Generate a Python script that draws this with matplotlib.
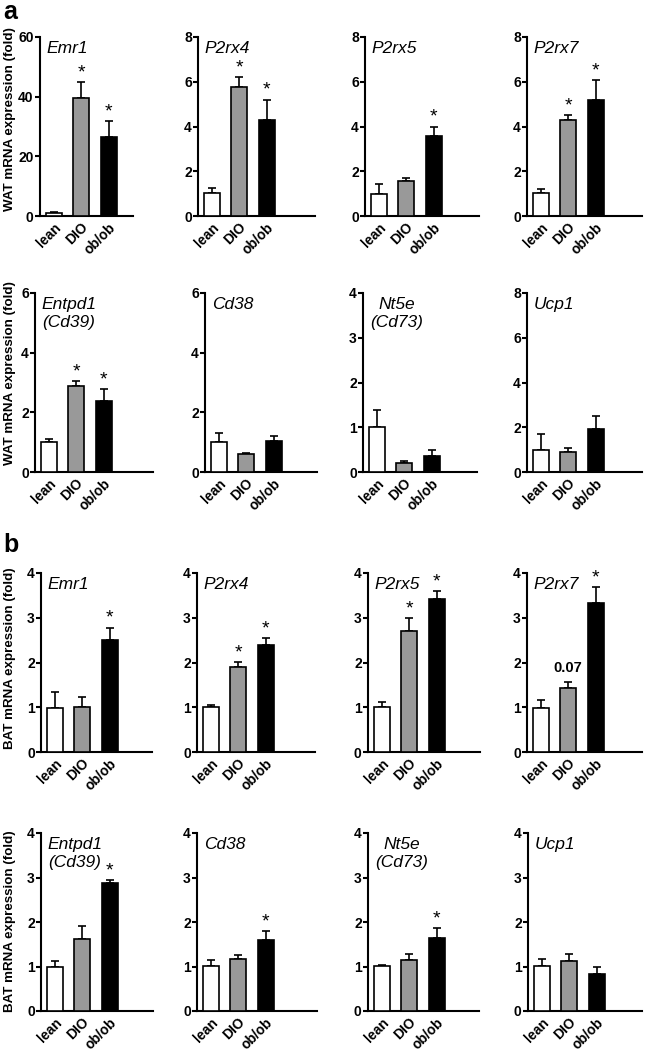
import matplotlib
matplotlib.use('Agg')
import matplotlib.pyplot as plt
import numpy as np

plt.rcParams['font.family'] = ['Liberation Sans', 'DejaVu Sans']

groups = ['lean', 'DIO', 'ob/ob']
bar_colors = ['white', '#999999', 'black']

genes = ['Emr1', 'P2rx4', 'P2rx5', 'P2rx7',
         'Entpd1\n(Cd39)', 'Cd38', 'Nt5e\n(Cd73)', 'Ucp1']

# a: WAT
wat_mean = [[1.0, 39.5, 26.6], [1.02, 5.75, 4.3], [1.0, 1.56, 3.58], [1.04, 4.28, 5.17],
            [0.99, 2.89, 2.39], [1.02, 0.61, 1.03], [1.0, 0.2, 0.35], [0.97, 0.88, 1.94]]
wat_sem = [[0.3, 5.3, 5.3], [0.23, 0.44, 0.9], [0.45, 0.15, 0.42], [0.16, 0.24, 0.9],
           [0.13, 0.15, 0.39], [0.29, 0.03, 0.17], [0.38, 0.05, 0.14], [0.71, 0.19, 0.58]]
wat_marks = [['', '*', '*'], ['', '*', '*'], ['', '', '*'], ['', '*', '*'],
             ['', '*', '*'], ['', '', ''], ['', '', ''], ['', '', '']]
wat_ymax = [60, 8, 8, 8, 6, 6, 4, 8]
wat_ystep = [20, 2, 2, 2, 2, 2, 1, 2]

# b: BAT
bat_mean = [[0.99, 1.01, 2.5], [1.0, 1.89, 2.4], [1.01, 2.7, 3.41], [0.99, 1.42, 3.34],
            [0.99, 1.62, 2.88], [1.01, 1.17, 1.6], [1.01, 1.14, 1.63], [1.01, 1.13, 0.83]]
bat_sem = [[0.36, 0.21, 0.28], [0.06, 0.12, 0.15], [0.11, 0.29, 0.19], [0.17, 0.14, 0.35],
           [0.13, 0.29, 0.07], [0.13, 0.08, 0.19], [0.02, 0.15, 0.24], [0.15, 0.15, 0.16]]
bat_marks = [['', '', '*'], ['', '*', '*'], ['', '*', '*'], ['', '0.07', '*'],
             ['', '', '*'], ['', '', '*'], ['', '', '*'], ['', '', '']]
bat_ymax = [4] * 8
bat_ystep = [1] * 8

W, H = 645, 1050
# axes boxes in pixels: (left, right) per column, (top, bottom) per row
row_tb = [(37, 216), (293, 472), (573, 752), (833, 1011)]
col_lr = [[(40, 133), (198, 315), (365, 479), (527, 642)],
          [(35, 153), (205, 317), (363, 477), (527, 642)],
          [(41, 152), (197, 315), (368, 480), (527, 642)],
          [(41, 153), (197, 317), (368, 479), (528, 642)]]
PX_PER_BAR = 27.5


def draw_panel(ax, mean, sem, marks, ymax, ystep, gene, width_px):
    x = np.arange(3)
    ax.errorbar(x, mean, yerr=[np.zeros(3), sem], fmt='none', ecolor='black',
                elinewidth=1.2, capsize=2.6, capthick=1.2, zorder=2)
    ax.bar(x, mean, width=0.57, color=bar_colors, edgecolor='black', linewidth=1.2, zorder=3)
    for xi, m, s, mk in zip(x, mean, sem, marks):
        if mk == '*':
            ax.annotate('*', (xi, m + s), xytext=(0, 0.5), textcoords='offset points',
                        ha='center', va='bottom', fontsize=14)
        elif mk:
            ax.annotate(mk, (xi, m + s), xytext=(0, 5), textcoords='offset points',
                        ha='center', va='bottom', fontsize=10.5, fontweight='bold')
    ax.set_ylim(0, ymax)
    ax.set_yticks(np.arange(0, ymax + ystep / 2, ystep))
    ax.set_xlim(-0.5, -0.5 + width_px / PX_PER_BAR)
    ax.set_xticks(x)
    ax.set_xticklabels(groups, rotation=45, ha='right', rotation_mode='anchor',
                       fontweight='bold', fontsize=10)
    for lab in ax.get_yticklabels():
        lab.set_fontweight('bold')
        lab.set_fontsize(10)
    for sp in ['top', 'right']:
        ax.spines[sp].set_visible(False)
    for sp in ['left', 'bottom']:
        ax.spines[sp].set_linewidth(1.5)
    ax.tick_params(axis='y', length=3.5, width=1.5, pad=1)
    ax.tick_params(axis='x', length=0, pad=3)
    ax.annotate(gene, (0, 1), xycoords='axes fraction', xytext=(5, -3),
                textcoords='offset points', ha='left', va='top', fontsize=12.5,
                style='italic', multialignment='center' if 'Nt5e' in gene else 'left')


fig = plt.figure(figsize=(W / 100, H / 100), dpi=100)

panels = [(wat_mean, wat_sem, wat_marks, wat_ymax, wat_ystep),
          (bat_mean, bat_sem, bat_marks, bat_ymax, bat_ystep)]
for p, (means, sems, marks, ymaxs, ysteps) in enumerate(panels):
    for r in range(2):
        row = p * 2 + r
        top, bot = row_tb[row]
        for c in range(4):
            g = r * 4 + c
            left, right = col_lr[row][c]
            ax = fig.add_axes([left / W, 1 - bot / H, (right - left) / W, (bot - top) / H])
            draw_panel(ax, means[g], sems[g], marks[g], ymaxs[g], ysteps[g], genes[g], right - left)

ylab_centers = [(119, 'WAT'), (373, 'WAT'), (658, 'BAT'), (921, 'BAT')]
for yc, tissue in ylab_centers:
    fig.text(10 / W, 1 - yc / H, f'{tissue} mRNA expression (fold)', rotation=90,
             ha='center', va='center', fontsize=9.6, fontweight='bold')

fig.text(3 / W, 1 - 0 / H, 'a', fontsize=18, fontweight='bold', va='top', ha='left')
fig.text(3 / W, 1 - 533 / H, 'b', fontsize=18, fontweight='bold', va='top', ha='left')

plt.savefig('out.png', dpi=100)
